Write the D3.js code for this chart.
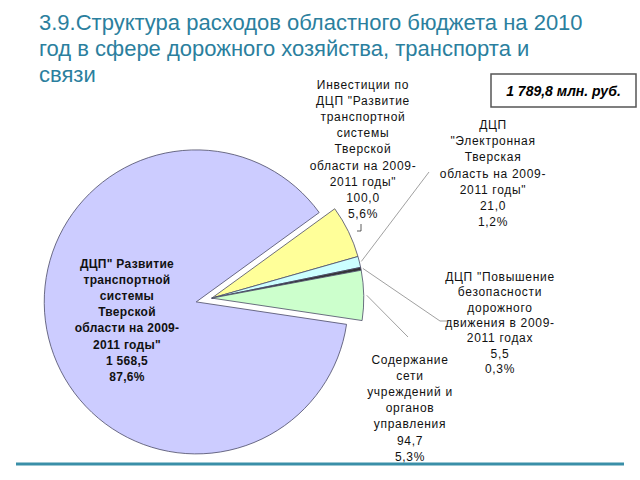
<!DOCTYPE html>
<html>
<head>
<meta charset="utf-8">
<script src="https://cdn.jsdelivr.net/npm/d3@7"></script>
<style>
  html, body { margin: 0; padding: 0; background: #fff; }
  svg { display: block; }
</style>
</head>
<body>
<div id="chart"></div>
<script>
// --- data ---
const titleLines = [
  "3.9.Структура расходов областного бюджета на 2010",
  "год в сфере дорожного хозяйства, транспорта и",
  "связи"
];
const totalLabel = "1 789,8 млн. руб.";

// slice order follows the pie clockwise from the yellow slice
const sliceNames = [
  ["Инвестиции по", "ДЦП \"Развитие", "транспортной", "системы", "Тверской", "области на 2009-", "2011 годы\""],
  ["ДЦП", "\"Электронная", "Тверская", "область на 2009-", "2011 годы\""],
  ["ДЦП \"Повышение", "безопасности", "дорожного", "движения в 2009-", "2011 годах"],
  ["Содержание", "сети", "учреждений и", "органов", "управления"],
  ["ДЦП\" Развитие", "транспортной", "системы", "Тверской", "области на 2009-", "2011 годы\""]
];
const sliceValues = [100.0, 21.0, 5.5, 94.7, 1568.5];
const sliceValueText = ["100,0", "21,0", "5,5", "94,7", "1 568,5"];
const slicePercents = ["5,6%", "1,2%", "0,3%", "5,3%", "87,6%"];
const sliceColors = ["#ffff99", "#ccffff", "#333333", "#ccffcc", "#ccccff"];

const width = 640, height = 480;
const cx = 204, cy = 300, radius = 152, explode = 8;
const deg = Math.PI / 180;

const svg = d3.select("#chart").append("svg")
  .attr("width", width)
  .attr("height", height);

// title
svg.append("g")
  .selectAll("text")
  .data(titleLines)
  .join("text")
  .attr("x", 39)
  .attr("y", (d, i) => 30 + i * 26)
  .style("font-family", "'Liberation Sans', Arial, sans-serif")
  .style("font-size", "22px")
  .style("fill", "#2b7f9e")
  .text(d => d);

// total box
svg.append("rect")
  .attr("x", 491).attr("y", 74)
  .attr("width", 145).attr("height", 33)
  .style("fill", "#fff")
  .style("stroke", "#555")
  .style("stroke-width", 1.5);
svg.append("text")
  .attr("x", 563.5).attr("y", 96)
  .attr("text-anchor", "middle")
  .style("font-family", "'Liberation Sans', Arial, sans-serif")
  .style("font-size", "14px")
  .style("font-weight", "bold")
  .style("font-style", "italic")
  .text(totalLabel);

// pie
const pie = d3.pie()
  .sort(null)
  .value(d => d)
  .startAngle(54 * deg)
  .endAngle(54 * deg + 2 * Math.PI);
const arcs = pie(sliceValues);

const arc = d3.arc().innerRadius(0).outerRadius(radius);

// big slice explodes on its own, the four small ones move out together
const small = arcs.slice(0, 4);
const groupMid = (small[0].startAngle + small[3].endAngle) / 2;
const offsetOf = (d, i) => {
  const a = i === 4 ? (d.startAngle + d.endAngle) / 2 : groupMid;
  return [explode * Math.sin(a), -explode * Math.cos(a)];
};

const pieG = svg.append("g").attr("transform", `translate(${cx},${cy})`);

pieG.selectAll("path.slice")
  .data(arcs)
  .join("path")
  .attr("class", "slice")
  .attr("transform", (d, i) => `translate(${offsetOf(d, i)})`)
  .attr("d", arc)
  .style("fill", (d, i) => sliceColors[i])
  .style("stroke", "#4a4a66")
  .style("stroke-width", 0.8)
  .style("stroke-linejoin", "round");

// point on the outer edge of a slice, in svg coords
const edgePoint = (i, r) => {
  const d = arcs[i];
  const a = (d.startAngle + d.endAngle) / 2;
  const o = offsetOf(d, i);
  return [cx + o[0] + r * Math.sin(a), cy + o[1] - r * Math.cos(a)];
};

// leader lines
const leaders = [
  { from: edgePoint(0, radius), path: [[361, 231], [361, 224]], start: [357, 231] },
  { from: edgePoint(1, radius + 2), path: [[429, 172]] },
  { from: edgePoint(2, radius + 2), path: [[440, 321], [448, 321]] },
  { from: edgePoint(3, radius + 3), path: [[408, 337]] }
];
svg.append("g")
  .selectAll("path")
  .data(leaders)
  .join("path")
  .attr("d", d => d3.line()([d.start || d.from, ...d.path]))
  .style("fill", "none")
  .style("stroke", (d, i) => i === 0 ? "#333" : "#888")
  .style("stroke-width", 0.8);

// labels
const labelPos = [
  { x: 363, y: 89, dy: 16.1, weight: "normal" },
  { x: 493, y: 129, dy: 16.2, weight: "normal" },
  { x: 500, y: 281, dy: 15.3, weight: "normal" },
  { x: 410, y: 364, dy: 16.1, weight: "normal" },
  { x: 127, y: 268, dy: 16.1, weight: "bold" }
];

const labels = svg.append("g")
  .selectAll("g")
  .data(arcs)
  .join("g");

labels.each(function (d, i) {
  const lines = [...sliceNames[i], sliceValueText[i], slicePercents[i]];
  const p = labelPos[i];
  d3.select(this).selectAll("text")
    .data(lines)
    .join("text")
    .attr("x", p.x)
    .attr("y", (t, j) => p.y + j * p.dy)
    .attr("text-anchor", "middle")
    .style("font-family", "'Liberation Sans', Arial, sans-serif")
    .style("font-size", "12px")
    .style("font-weight", p.weight)
    .style("letter-spacing", p.weight === "bold" ? "0.3px" : "0.7px")
    .style("fill", "#111")
    .text(t => t);
});

// bottom rule
svg.append("line")
  .attr("x1", 16).attr("x2", 624)
  .attr("y1", 464).attr("y2", 464)
  .style("stroke", "#3a8fa8")
  .style("stroke-width", 3);
</script>
</body>
</html>
